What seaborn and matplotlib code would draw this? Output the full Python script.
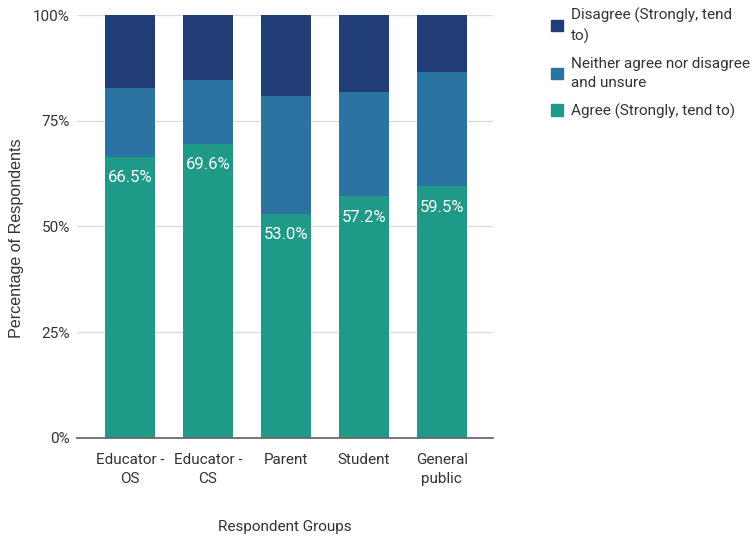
import matplotlib
matplotlib.use("Agg")
import matplotlib.pyplot as plt
import seaborn as sns
import pandas as pd
from matplotlib.patches import Patch

groups = ["Educator -\nOS", "Educator -\nCS", "Parent", "Student", "General\npublic"]
agree = [66.5, 69.6, 53.0, 57.2, 59.5]
neither = [16.3, 15.0, 27.9, 24.5, 27.0]
disagree = [17.2, 15.4, 19.1, 18.3, 13.5]

legend_labels = ["Disagree (Strongly, tend\nto)", "Neither agree nor disagree\nand unsure",
                 "Agree (Strongly, tend to)"]
colors = ["#203d75", "#2b73a0", "#1f9a89"]

sns.set_theme(style="white")
plt.rcParams["font.family"] = ["Roboto", "DejaVu Sans"]

df = pd.DataFrame({"group": groups, "agree": agree, "neither": neither, "disagree": disagree})
df["mid"] = df["agree"] + df["neither"]
df["top"] = df["mid"] + df["disagree"]

fig = plt.figure(figsize=(7.54, 5.39), dpi=100)
ax = fig.add_axes([0.102, 0.188, 0.552, 0.784])

# stacked bars: draw cumulative totals back to front
for col, c in zip(["top", "mid", "agree"], colors):
    sns.barplot(data=df, x="group", y=col, color=c, width=0.64, saturation=1,
                linewidth=0, ax=ax, zorder=3)

for i, v in enumerate(agree):
    ax.text(i, v - 5, f"{v:.1f}%", ha="center", va="center", color="white",
            fontsize=12, zorder=4)

ax.set_ylim(0, 100)
ax.set_xlim(-0.68, 4.66)
ax.set_yticks([0, 25, 50, 75, 100])
ax.set_yticklabels(["0%", "25%", "50%", "75%", "100%"])
ax.grid(axis="y", color="#dddddd", linewidth=1, zorder=0)
for s in ["top", "right", "left"]:
    ax.spines[s].set_visible(False)
ax.spines["bottom"].set_color("#666666")
ax.spines["bottom"].set_zorder(5)
ax.tick_params(axis="y", length=0, labelsize=11, colors="#333333", pad=5)
ax.tick_params(axis="x", length=0, labelsize=11, colors="#333333", pad=11)
for t in ax.get_xticklabels():
    t.set_linespacing(1.5)
ax.set_xlabel("Respondent Groups", fontsize=11, color="#333333", labelpad=24)
ax.set_ylabel("Percentage of Respondents", fontsize=11.6, color="#333333",
              family=["Liberation Sans", "DejaVu Sans"])
ax.yaxis.set_label_coords(-0.126, 0.472)

handles = [Patch(color=c) for c in colors]
leg = fig.legend(handles, legend_labels, loc="upper left", bbox_to_anchor=(0.713, 1.012),
                 frameon=False, fontsize=11, handlelength=0.75, handleheight=0.75,
                 handletextpad=0.55, labelspacing=0.85, labelcolor="#333333")
for t in leg.get_texts():
    t.set_linespacing(1.5)

fig.savefig("out.png", dpi=100)
